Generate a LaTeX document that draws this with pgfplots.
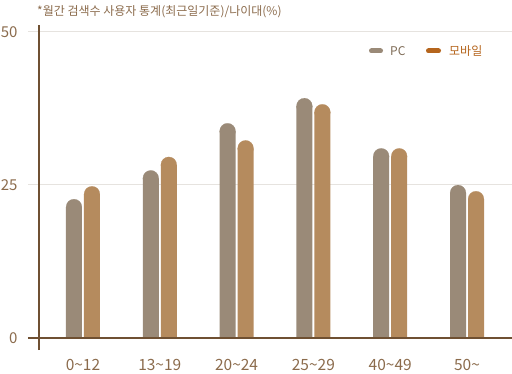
\documentclass[border=0pt]{standalone}
\usepackage{pgfplots}
\pgfplotsset{compat=1.18}
\usepackage{pgfplotstable}
\usepackage{fontspec}
\setmainfont{Noto Sans CJK KR}
\definecolor{axisbrown}{HTML}{6F5032}
\definecolor{labbrown}{HTML}{8B6B4C}
\definecolor{pcbar}{HTML}{9A8A78}
\definecolor{mobbar}{HTML}{B58B5E}
\definecolor{mobleg}{HTML}{B5651D}
\definecolor{pctext}{HTML}{7D6A55}
\definecolor{gridc}{HTML}{E6E3DF}
\pgfplotstableread{
cat pc mob
0 22.7 24.8
1 27.4 29.6
2 35.1 32.3
3 39.2 38.2
4 31.0 31.0
5 25.0 24.0
}\datatable
\begin{document}
\begin{tikzpicture}
\path[use as bounding box] (-28pt,-23pt) rectangle (484pt,350pt);
\begin{axis}[
  at={(0,0)}, anchor=south west,
  scale only axis, width=484pt, height=325pt,
  xmin=-0.716, xmax=5.586, ymin=-1.96, ymax=51.14,
  axis line style={draw=none},
  major tick length=0pt,
  ytick={0,25,50},
  ymajorgrids, grid style={gridc, line width=1pt},
  xtick={0,1,2,3,4,5},
  xticklabels={0\textasciitilde12,13\textasciitilde19,20\textasciitilde24,25\textasciitilde29,40\textasciitilde49,50\textasciitilde},
  /pgf/number format/assume math mode=true,
  yticklabel style={font=\fontsize{15}{15}\selectfont, text=labbrown, xshift=-7pt},
  xticklabel style={font=\fontsize{15.5}{15.5}\selectfont, text=labbrown, yshift=-6pt},
  clip=false,
]
\addplot[ybar, bar width=16pt, bar shift=-9pt, fill=pcbar, draw=none] table[x=cat, y expr=\thisrow{pc}-1.307] {\datatable};
\addplot[only marks, color=pcbar, mark=*, mark size=7.9pt, mark options={fill=pcbar, draw=pcbar, line width=0.2pt}] table[x expr=\thisrow{cat}-0.1172, y expr=\thisrow{pc}-1.307] {\datatable};
\addplot[ybar, bar width=16pt, bar shift=9pt, fill=mobbar, draw=none] table[x=cat, y expr=\thisrow{mob}-1.307] {\datatable};
\addplot[only marks, color=mobbar, mark=*, mark size=7.9pt, mark options={fill=mobbar, draw=mobbar, line width=0.2pt}] table[x expr=\thisrow{cat}+0.1172, y expr=\thisrow{mob}-1.307] {\datatable};
\draw[axisbrown, line width=2pt] (axis cs:-0.573,-1.96) -- (axis cs:-0.573,51.14);
\draw[axisbrown, line width=2pt] (axis cs:-0.716,0) -- (axis cs:5.586,0);
\end{axis}
% title
\node[anchor=west, inner sep=0pt, text=labbrown, font=\fontsize{12}{12}\selectfont] at (9pt,338pt) {*월간 검색수 사용자 통계(최근일기준)/나이대(\%)};
% legend
\draw[pcbar, line width=5pt, line cap=round] (343.5pt,299pt) -- (352.5pt,299pt);
\node[anchor=west, inner sep=0pt, text=pctext, font=\fontsize{12}{12}\selectfont] at (362pt,299pt) {PC};
\draw[mobleg, line width=5pt, line cap=round] (400.5pt,299pt) -- (410.5pt,299pt);
\node[anchor=west, inner sep=0pt, text=mobleg, font=\fontsize{12}{12}\selectfont] at (421pt,299pt) {모바일};
\end{tikzpicture}
\end{document}
